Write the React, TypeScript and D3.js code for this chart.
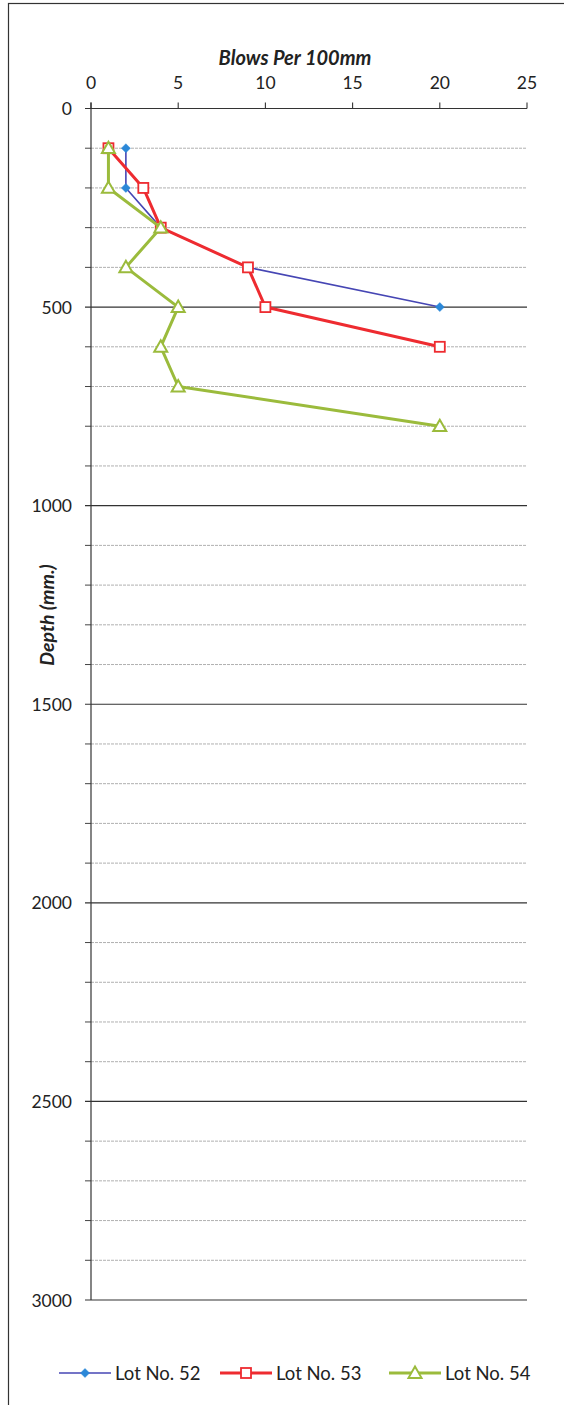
import React from "react";
import * as d3 from "d3";

const xTicks = [0, 5, 10, 15, 20, 25];
const yMajorTicks = [0, 500, 1000, 1500, 2000, 2500, 3000];
const yMinorTicks = d3.range(100, 3000, 100).filter((d) => d % 500 !== 0);

const lot52Blows = [2, 2, 4, 9, 20];
const lot52Depth = [100, 200, 300, 400, 500];
const lot53Blows = [1, 3, 4, 9, 10, 20];
const lot53Depth = [100, 200, 300, 400, 500, 600];
const lot54Blows = [1, 1, 4, 2, 5, 4, 5, 20];
const lot54Depth = [100, 200, 300, 400, 500, 600, 700, 800];

const seriesNames = ["Lot No. 52", "Lot No. 53", "Lot No. 54"];

const W = 564;
const H = 1405;
const FONT = "Lato, 'Open Sans', sans-serif";

const x = d3.scaleLinear().domain([0, 25]).range([91, 527]);
const y = d3.scaleLinear().domain([0, 3000]).range([108.5, 1300]);

type Pt = [number, number];
const zip = (a: number[], b: number[]): Pt[] => a.map((v, i) => [v, b[i]]);

const line = d3
  .line<Pt>()
  .x((d) => x(d[0]))
  .y((d) => y(d[1]));

const series = [
  { name: seriesNames[0], data: zip(lot52Blows, lot52Depth), color: "#4646B4", width: 1.6, marker: "diamond", mcolor: "#2B88D8" },
  { name: seriesNames[1], data: zip(lot53Blows, lot53Depth), color: "#EE2B30", width: 3, marker: "square", mcolor: "#EE2B30" },
  { name: seriesNames[2], data: zip(lot54Blows, lot54Depth), color: "#9BBB3C", width: 3, marker: "triangle", mcolor: "#9BBB3C" },
];

function Marker({ kind, cx, cy, color }: { kind: string; cx: number; cy: number; color: string }) {
  if (kind === "diamond") {
    const s = 4.5;
    return <path d={`M${cx},${cy - s}L${cx + s},${cy}L${cx},${cy + s}L${cx - s},${cy}Z`} fill={color} stroke={color} strokeWidth={0.5} />;
  }
  if (kind === "square") {
    const s = 5;
    return <rect x={cx - s} y={cy - s} width={2 * s} height={2 * s} fill="white" stroke={color} strokeWidth={1.8} />;
  }
  const s = 6.5;
  return (
    <path
      d={`M${cx},${cy - s}L${cx + s},${cy + s * 0.75}L${cx - s},${cy + s * 0.75}Z`}
      fill="white"
      stroke={color}
      strokeWidth={2}
      strokeLinejoin="miter"
    />
  );
}

const legendMarkerX = [85, 246, 415];

export default function App() {
  const [x0, x1] = x.range();
  return (
    <svg
      width={W}
      height={H}
      style={{ position: "absolute", left: 0, top: 0, background: "white" }}
      fontFamily={FONT}
    >
      <rect x={8.5} y={3.5} width={W + 10} height={H + 10} fill="white" stroke="#333" strokeWidth={1.2} />

      {/* minor gridlines */}
      {yMinorTicks.map((t) => (
        <g key={"mn" + t}>
          <line x1={x0} x2={x1} y1={y(t)} y2={y(t)} stroke="#b0b0b0" strokeWidth={1} strokeDasharray="3,1" />
          <line x1={x0 - 6} x2={x0} y1={y(t)} y2={y(t)} stroke="#444" strokeWidth={1} />
        </g>
      ))}
      {/* major gridlines */}
      {yMajorTicks.map((t) => (
        <g key={"mj" + t}>
          <line x1={x0 - 6} x2={x1} y1={y(t)} y2={y(t)} stroke="#333" strokeWidth={1.1} />
          <text x={72} y={y(t)} textAnchor="end" dominantBaseline="central" fontSize={17.5} fill="#222">
            {t}
          </text>
        </g>
      ))}
      {/* left axis */}
      <line x1={x0} x2={x0} y1={y(0) - 6} y2={y(3000)} stroke="#333" strokeWidth={1.2} />
      {/* top ticks */}
      {xTicks.map((t) => (
        <g key={"xt" + t}>
          <line x1={x(t)} x2={x(t)} y1={y(0) - 6} y2={y(0)} stroke="#333" strokeWidth={1.1} />
          <text x={x(t)} y={82} textAnchor="middle" dominantBaseline="central" fontSize={17.5} fill="#222">
            {t}
          </text>
        </g>
      ))}

      <text x={295} y={57} textAnchor="middle" dominantBaseline="central" fontSize={20} fontWeight="bold" fontStyle="italic" fill="#222">
        Blows Per 100mm
      </text>
      <text
        transform={`translate(46,615) rotate(-90)`}
        textAnchor="middle"
        dominantBaseline="central"
        fontSize={19.5}
        fontWeight="bold"
        fontStyle="italic"
        fill="#222"
      >
        Depth (mm.)
      </text>

      {series.map((s) => (
        <g key={s.name}>
          <path d={line(s.data) || ""} fill="none" stroke={s.color} strokeWidth={s.width} strokeLinejoin="round" />
          {s.data.map((d, i) => (
            <Marker key={i} kind={s.marker} cx={x(d[0])} cy={y(d[1])} color={s.mcolor} />
          ))}
        </g>
      ))}

      {/* legend */}
      {series.map((s, i) => {
        const mx = legendMarkerX[i];
        const ly = 1373;
        return (
          <g key={"lg" + i}>
            <line x1={mx - 26} x2={mx + 26} y1={ly} y2={ly} stroke={s.color} strokeWidth={s.width} />
            <Marker kind={s.marker} cx={mx} cy={ly} color={s.mcolor} />
            <text x={mx + 30} y={ly} dominantBaseline="central" fontSize={18.5} fill="#222">
              {s.name}
            </text>
          </g>
        );
      })}
    </svg>
  );
}
